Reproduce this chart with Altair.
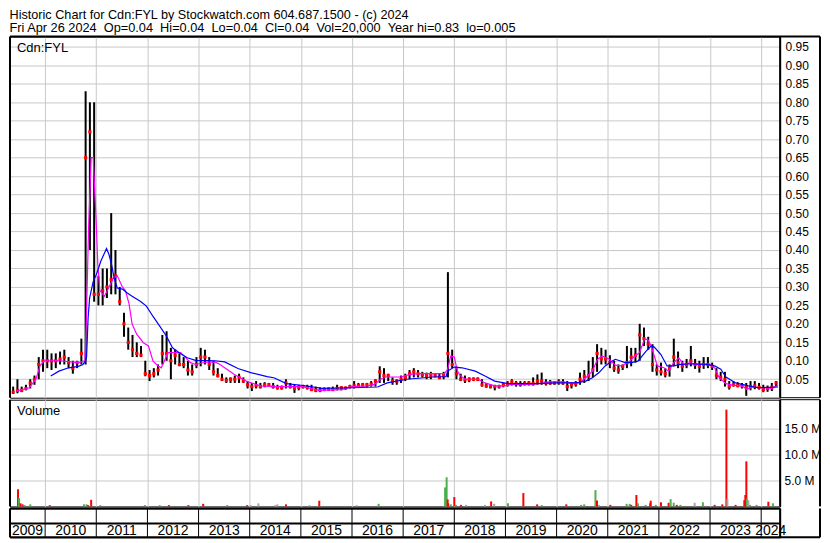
import altair as alt
import pandas as pd

FONT = "Liberation Sans"

header_line1 = "Historic Chart for Cdn:FYL by Stockwatch.com 604.687.1500 - (c) 2024"
header_line2 = ("Fri Apr 26 2024  Op=0.04  Hi=0.04  Lo=0.04  Cl=0.04  "
                "Vol=20,000  Year hi=0.83  lo=0.005").replace("  ", "\u00a0\u00a0")
ticker = "Cdn:FYL"
volume_title = "Volume"

# ---- monthly price bars, May 2009 .. Apr 2024 ----
first_month = "2009-05"
high = [
    0.03, 0.05, 0.03, 0.035, 0.05, 0.06, 0.11, 0.13,                            # 2009
    0.13, 0.12, 0.12, 0.125, 0.13, 0.11, 0.10, 0.10, 0.16, 0.83, 0.80, 0.80,    # 2010
    0.33, 0.35, 0.35, 0.50, 0.40, 0.30, 0.23, 0.19, 0.17, 0.15, 0.14, 0.10,     # 2011
    0.075, 0.08, 0.09, 0.17, 0.18, 0.135, 0.13, 0.12, 0.11, 0.10, 0.09, 0.11,   # 2012
    0.135, 0.13, 0.11, 0.10, 0.08, 0.065, 0.055, 0.055, 0.06, 0.065, 0.055, 0.045,  # 2013
    0.04, 0.045, 0.04, 0.042, 0.04, 0.04, 0.035, 0.033, 0.05, 0.04, 0.035, 0.035,   # 2014
    0.035, 0.035, 0.035, 0.03, 0.028, 0.028, 0.028, 0.03, 0.035, 0.03, 0.03, 0.035,  # 2015
    0.045, 0.04, 0.04, 0.04, 0.045, 0.05, 0.085, 0.08, 0.065, 0.055, 0.05, 0.06,    # 2016
    0.065, 0.075, 0.08, 0.075, 0.07, 0.068, 0.07, 0.065, 0.065, 0.07, 0.34, 0.13,   # 2017
    0.085, 0.065, 0.06, 0.055, 0.055, 0.055, 0.05, 0.04, 0.037, 0.035, 0.035, 0.04,  # 2018
    0.045, 0.05, 0.045, 0.045, 0.045, 0.045, 0.055, 0.063, 0.068, 0.05, 0.048, 0.045,  # 2019
    0.05, 0.05, 0.045, 0.042, 0.045, 0.068, 0.075, 0.10, 0.11, 0.145, 0.135, 0.13,  # 2020
    0.115, 0.10, 0.09, 0.09, 0.14, 0.135, 0.135, 0.20, 0.19, 0.165, 0.145, 0.09,    # 2021
    0.095, 0.08, 0.09, 0.16, 0.125, 0.10, 0.105, 0.14, 0.105, 0.10, 0.11, 0.11,     # 2022
    0.095, 0.08, 0.07, 0.07, 0.045, 0.045, 0.042, 0.04, 0.04, 0.045, 0.045, 0.04,   # 2023
    0.035, 0.033, 0.04, 0.045,                                                   # 2024
]
low = [
    0.01, 0.012, 0.015, 0.02, 0.025, 0.035, 0.05, 0.07,
    0.08, 0.075, 0.08, 0.09, 0.09, 0.08, 0.065, 0.08, 0.09, 0.09, 0.40, 0.26,
    0.25, 0.25, 0.27, 0.28, 0.28, 0.25, 0.165, 0.13, 0.11, 0.11, 0.11, 0.058,
    0.045, 0.055, 0.06, 0.09, 0.10, 0.05, 0.09, 0.085, 0.08, 0.06, 0.06, 0.08,
    0.085, 0.09, 0.075, 0.06, 0.055, 0.045, 0.04, 0.04, 0.04, 0.04, 0.04, 0.025,
    0.018, 0.025, 0.025, 0.028, 0.03, 0.025, 0.022, 0.022, 0.025, 0.025, 0.013, 0.02,
    0.025, 0.022, 0.018, 0.015, 0.015, 0.018, 0.018, 0.018, 0.02, 0.02, 0.022, 0.025,
    0.025, 0.028, 0.03, 0.028, 0.03, 0.03, 0.04, 0.04, 0.045, 0.035, 0.035, 0.04,
    0.045, 0.05, 0.055, 0.055, 0.055, 0.05, 0.05, 0.055, 0.05, 0.05, 0.055, 0.08,
    0.05, 0.045, 0.04, 0.042, 0.045, 0.045, 0.03, 0.027, 0.025, 0.02, 0.025, 0.028,
    0.03, 0.033, 0.03, 0.03, 0.033, 0.033, 0.033, 0.035, 0.035, 0.033, 0.035, 0.035,
    0.035, 0.035, 0.018, 0.025, 0.03, 0.035, 0.04, 0.045, 0.055, 0.07, 0.09, 0.09,
    0.08, 0.07, 0.065, 0.075, 0.08, 0.085, 0.095, 0.10, 0.14, 0.13, 0.07, 0.06,
    0.06, 0.055, 0.057, 0.085, 0.08, 0.07, 0.08, 0.085, 0.078, 0.068, 0.078, 0.08,
    0.075, 0.05, 0.045, 0.03, 0.022, 0.03, 0.028, 0.025, 0.005, 0.02, 0.023, 0.022,
    0.015, 0.016, 0.018, 0.03,
]
close = [
    0.015, 0.02, 0.02, 0.025, 0.04, 0.05, 0.09, 0.10,
    0.10, 0.10, 0.10, 0.105, 0.11, 0.095, 0.08, 0.095, 0.12, 0.65, 0.72, 0.28,
    0.28, 0.29, 0.30, 0.32, 0.33, 0.26, 0.20, 0.15, 0.13, 0.12, 0.115, 0.065,
    0.06, 0.065, 0.075, 0.12, 0.12, 0.10, 0.115, 0.09, 0.09, 0.075, 0.07, 0.09,
    0.11, 0.11, 0.09, 0.07, 0.06, 0.05, 0.047, 0.05, 0.05, 0.055, 0.045, 0.035,
    0.03, 0.033, 0.03, 0.035, 0.035, 0.03, 0.027, 0.027, 0.04, 0.03, 0.025, 0.028,
    0.03, 0.028, 0.022, 0.02, 0.02, 0.022, 0.023, 0.022, 0.025, 0.027, 0.026, 0.03,
    0.032, 0.033, 0.035, 0.035, 0.037, 0.045, 0.07, 0.06, 0.06, 0.045, 0.045, 0.05,
    0.055, 0.065, 0.07, 0.065, 0.062, 0.06, 0.06, 0.06, 0.055, 0.06, 0.12, 0.09,
    0.065, 0.05, 0.048, 0.05, 0.05, 0.05, 0.035, 0.032, 0.03, 0.03, 0.03, 0.035,
    0.037, 0.043, 0.038, 0.036, 0.038, 0.04, 0.038, 0.045, 0.045, 0.04, 0.04, 0.04,
    0.042, 0.04, 0.03, 0.035, 0.038, 0.05, 0.058, 0.06, 0.075, 0.12, 0.105, 0.105,
    0.095, 0.08, 0.075, 0.085, 0.095, 0.11, 0.115, 0.17, 0.16, 0.145, 0.09, 0.075,
    0.07, 0.065, 0.08, 0.11, 0.095, 0.085, 0.09, 0.10, 0.09, 0.085, 0.09, 0.09,
    0.085, 0.06, 0.055, 0.05, 0.03, 0.035, 0.033, 0.032, 0.028, 0.03, 0.032, 0.028,
    0.022, 0.025, 0.028, 0.04,
]

# ---- moving averages (decimal year, price) ----
ma_short_t = [2009.44, 2009.69, 2009.82, 2009.90, 2009.98, 2010.27, 2010.65, 2010.78, 2010.81,
              2010.85, 2010.90, 2010.94, 2010.97, 2011.00, 2011.03, 2011.07, 2011.16, 2011.25,
              2011.34, 2011.41, 2011.51, 2011.57, 2011.64, 2011.70, 2011.79, 2011.92, 2012.02,
              2012.11, 2012.21, 2012.27, 2012.33, 2012.40, 2012.49, 2012.65, 2012.75, 2012.84,
              2012.94, 2013.13, 2013.32, 2013.42, 2013.51, 2013.70, 2013.96, 2014.21, 2014.47,
              2015.04, 2015.36, 2015.80, 2015.99, 2016.31, 2016.44, 2016.56, 2016.66, 2016.95,
              2017.14, 2017.33, 2017.81, 2017.87, 2017.93, 2018.00, 2018.06, 2018.12, 2018.22,
              2018.47, 2018.60, 2018.79, 2018.98, 2019.11, 2019.43, 2019.68, 2019.87, 2020.13,
              2020.32, 2020.44, 2020.57, 2020.70, 2020.80, 2020.89, 2021.02, 2021.15, 2021.27,
              2021.40, 2021.53, 2021.62, 2021.72, 2021.78, 2021.85, 2021.91, 2021.97, 2022.10,
              2022.19, 2022.29, 2022.39, 2022.48, 2022.61, 2022.70, 2022.86, 2022.99, 2023.09,
              2023.18, 2023.31, 2023.44, 2023.63, 2023.72, 2023.82, 2024.01, 2024.20, 2024.33]
ma_short_v = [0.018, 0.027, 0.05, 0.086, 0.10, 0.10, 0.095, 0.10, 0.235,
              0.46, 0.65, 0.65, 0.56, 0.47, 0.36, 0.29, 0.275, 0.30,
              0.325, 0.33, 0.30, 0.29, 0.255, 0.20, 0.172, 0.149, 0.14,
              0.099, 0.086, 0.081, 0.099, 0.122, 0.122, 0.122, 0.108, 0.095,
              0.09, 0.096, 0.097, 0.09, 0.081, 0.063, 0.043, 0.032, 0.03,
              0.03, 0.02, 0.022, 0.03, 0.032, 0.036, 0.05, 0.056, 0.056,
              0.063, 0.065, 0.065, 0.077, 0.113, 0.11, 0.072, 0.059, 0.05,
              0.05, 0.04, 0.032, 0.032, 0.036, 0.036, 0.038, 0.043, 0.043,
              0.038, 0.04, 0.054, 0.072, 0.104, 0.113, 0.105, 0.088, 0.086,
              0.095, 0.113, 0.122, 0.158, 0.158, 0.14, 0.113, 0.086, 0.081,
              0.072, 0.095, 0.108, 0.09, 0.095, 0.09, 0.09, 0.09, 0.081,
              0.054, 0.038, 0.034, 0.032, 0.023, 0.029, 0.027, 0.025, 0.034]

ma_long_t = [2010.11, 2010.27, 2010.46, 2010.65, 2010.74, 2010.79, 2010.81, 2010.84, 2010.87,
             2010.94, 2011.00, 2011.09, 2011.20, 2011.25, 2011.30, 2011.35, 2011.41, 2011.51,
             2011.60, 2011.70, 2011.86, 2011.98, 2012.11, 2012.24, 2012.37, 2012.49, 2012.62,
             2012.78, 2012.94, 2013.32, 2013.51, 2013.77, 2014.02, 2014.34, 2014.47, 2014.72,
             2015.04, 2015.42, 2015.99, 2016.50, 2016.69, 2017.07, 2017.58, 2017.84, 2017.87,
             2018.00, 2018.15, 2018.41, 2018.60, 2018.79, 2019.05, 2019.56, 2020.00, 2020.38,
             2020.57, 2020.70, 2020.83, 2020.95, 2021.08, 2021.15, 2021.34, 2021.46, 2021.59,
             2021.75, 2021.85, 2021.91, 2022.04, 2022.16, 2022.29, 2022.42, 2022.61, 2022.93,
             2023.09, 2023.21, 2023.31, 2023.50, 2023.75, 2023.94, 2024.33]
ma_long_v = [0.059, 0.072, 0.081, 0.085, 0.09, 0.10, 0.11, 0.216, 0.27,
             0.315, 0.333, 0.37, 0.404, 0.387, 0.36, 0.324, 0.297, 0.294,
             0.284, 0.275, 0.261, 0.248, 0.22, 0.194, 0.167, 0.135, 0.122,
             0.108, 0.101, 0.10, 0.097, 0.079, 0.068, 0.057, 0.054, 0.038,
             0.033, 0.025, 0.027, 0.029, 0.04, 0.05, 0.056, 0.057, 0.072,
             0.083, 0.081, 0.072, 0.059, 0.045, 0.038, 0.038, 0.04, 0.04,
             0.045, 0.054, 0.068, 0.086, 0.099, 0.104, 0.095, 0.095, 0.099,
             0.126, 0.14, 0.137, 0.117, 0.086, 0.086, 0.09, 0.092, 0.09,
             0.086, 0.077, 0.056, 0.04, 0.032, 0.027, 0.029]

# ---- volume bars (decimal year, millions of shares, direction) ----
vol_t = [2009.47, 2009.49, 2009.52, 2009.56, 2009.60, 2009.71, 2010.09, 2010.76, 2010.81,
         2010.84, 2010.90, 2011.08, 2011.95, 2012.24, 2012.42, 2012.80, 2013.09, 2013.56,
         2013.95, 2014.02, 2014.17, 2014.50, 2014.54, 2014.71, 2015.17, 2015.36, 2016.09,
         2016.52, 2017.82, 2017.85, 2017.87, 2017.88, 2017.93, 2018.00, 2018.03, 2018.13,
         2018.23, 2018.60, 2018.72, 2018.78, 2019.05, 2019.35, 2019.62, 2019.71, 2020.19,
         2020.48, 2020.54, 2020.76, 2020.79, 2020.83, 2021.05, 2021.37, 2021.43, 2021.46,
         2021.56, 2021.59, 2021.74, 2021.83, 2021.84, 2021.94, 2022.04, 2022.19, 2022.23,
         2022.29, 2022.35, 2022.42, 2022.70, 2022.86, 2023.09, 2023.24, 2023.32, 2023.34,
         2023.50, 2023.67, 2023.71, 2023.69, 2023.72, 2023.75, 2023.78, 2023.91, 2024.14,
         2024.23]
vol_m = [3.3, 1.6, 0.6, 0.4, 0.25, 0.4, 0.25, 0.4, 0.4,
         0.25, 1.28, 0.25, 0.25, 0.25, 0.25, 0.25, 0.5, 0.25,
         0.25, 0.25, 0.6, 0.25, 0.4, 0.4, 0.25, 1.1, 0.25,
         0.5, 3.65, 5.6, 1.35, 0.6, 0.4, 1.8, 0.3, 0.3,
         0.3, 0.3, 0.96, 0.5, 0.6, 2.56, 0.4, 0.25, 0.4,
         0.3, 0.4, 3.13, 1.15, 0.3, 0.3, 0.5, 0.5, 0.3,
         2.2, 0.6, 0.3, 0.6, 1.1, 0.3, 0.8, 0.7, 1.4,
         0.7, 0.3, 0.3, 0.7, 0.8, 0.3, 0.4, 18.6, 1.4,
         0.3, 1.2, 8.65, 2.2, 1.5, 1.2, 0.3, 0.3, 0.9,
         0.6]
vol_dir = ["down", "up", "down", "down", "up", "up", "down", "up", "up",
           "down", "down", "up", "up", "up", "down", "down", "down", "up",
           "down", "flat", "flat", "flat", "flat", "down", "flat", "down", "flat",
           "up", "up", "up", "down", "down", "up", "down", "up", "down",
           "flat", "flat", "down", "flat", "up", "down", "down", "up", "down",
           "up", "up", "up", "down", "flat", "down", "up", "up", "down",
           "down", "up", "up", "down", "down", "up", "down", "down", "up",
           "up", "down", "up", "flat", "up", "down", "down", "down", "flat",
           "down", "down", "down", "down", "up", "flat", "up", "up", "down",
           "up"]

years = list(range(2009, 2025))
price_ticks = [0.05, 0.10, 0.15, 0.20, 0.25, 0.30, 0.35, 0.40, 0.45, 0.50,
               0.55, 0.60, 0.65, 0.70, 0.75, 0.80, 0.85, 0.90, 0.95]
volume_ticks = [5, 10, 15]

X_MIN, X_MAX = 2009.313, 2024.37
PRICE_MAX = 0.978
VOL_MAX = 20.5

W = 772
H_PRICE = 362
H_VOL = 107
H_STRIP = 29
LABEL_COL = 40
GRID = "#c8c8c8"

# ---- data frames ----
months = pd.period_range(first_month, periods=len(high), freq="M")
bars = pd.DataFrame({
    "t": [m.year + (m.month - 0.5) / 12 for m in months],
    "hi": high, "lo": low, "cl": close,
})
ma_s = pd.DataFrame({"t": ma_short_t, "v": ma_short_v})
ma_l = pd.DataFrame({"t": ma_long_t, "v": ma_long_v})
vol = pd.DataFrame({"t": vol_t, "m": vol_m, "dir": vol_dir})
one = pd.DataFrame({"s": [0]})

xs = alt.Scale(domain=[X_MIN, X_MAX], nice=False, zero=False)
ys = alt.Scale(domain=[0, PRICE_MAX], nice=False, zero=False)
vs = alt.Scale(domain=[0, VOL_MAX], nice=False, zero=False)

x_axis = alt.Axis(values=years[1:], grid=True, gridColor=GRID, gridWidth=1,
                  labels=False, ticks=False, domain=False, title=None)
y_axis = alt.Axis(orient="right", values=price_ticks, format=".2f", grid=True, gridColor=GRID,
                  ticks=False, domain=False, title=None, labelPadding=5,
                  labelFont=FONT, labelFontSize=12, labelColor="black")
v_axis = alt.Axis(orient="right", values=volume_ticks,
                  labelExpr="format(datum.value, '.1f') + ' M'",
                  grid=True, gridColor=GRID, ticks=False, domain=False, title=None,
                  labelPadding=4, labelFont=FONT, labelFontSize=12, labelColor="black")


def X():
    return alt.X("t:Q", scale=xs, axis=x_axis, title=None)


def PY(field):
    return alt.Y(field, scale=ys, axis=y_axis, title=None)


def hline(y, x0, x1, w):
    return alt.Chart(one).mark_rule(color="black", strokeWidth=w).encode(
        x=alt.value(x0), x2=alt.value(x1), y=alt.value(y))


def vline(x, y0, y1, w):
    return alt.Chart(one).mark_rule(color="black", strokeWidth=w).encode(
        x=alt.value(x), y=alt.value(y0), y2=alt.value(y1))


price_bars = alt.Chart(bars).mark_rule(color="black", strokeWidth=2).encode(
    x=X(), y=PY("lo:Q"), y2="hi:Q")
price_close = alt.Chart(bars).mark_square(color="#ff0000", size=10, opacity=1).encode(
    x=X(), y=PY("cl:Q"))
line_s = alt.Chart(ma_s).mark_line(color="#ff00ff", strokeWidth=1.2).encode(x=X(), y=PY("v:Q"))
line_l = alt.Chart(ma_l).mark_line(color="#0000ff", strokeWidth=1.2).encode(x=X(), y=PY("v:Q"))
price_label = alt.Chart(pd.DataFrame({"s": [ticker]})).mark_text(
    font=FONT, fontSize=13, color="black", align="left", baseline="top").encode(
    text="s:N", x=alt.value(7), y=alt.value(5))

price = alt.layer(
    price_bars, price_close, line_s, line_l, price_label,
    hline(0, 0, W + LABEL_COL, 2), vline(0, 0, H_PRICE, 2), vline(W, 0, H_PRICE, 2),
    hline(H_PRICE, W, W + LABEL_COL, 1), vline(W + LABEL_COL, 0, H_PRICE, 2),
).properties(width=W, height=H_PRICE)

vol_bars = alt.Chart(vol).mark_rule(strokeWidth=2).encode(
    x=X(),
    y=alt.Y("m:Q", scale=vs, axis=v_axis, title=None),
    y2=alt.datum(0),
    color=alt.Color("dir:N", scale=alt.Scale(domain=["down", "up", "flat"],
                                             range=["#ff0000", "#4cb04c", "#a8a8a8"]),
                    legend=None),
)
vol_label = alt.Chart(pd.DataFrame({"s": [volume_title]})).mark_text(
    font=FONT, fontSize=13, color="black", align="left", baseline="top").encode(
    text="s:N", x=alt.value(7), y=alt.value(5))
volume = alt.layer(
    vol_bars, vol_label,
    hline(0, W, W + LABEL_COL, 1), vline(0, 0, H_VOL, 2), vline(W, 0, H_VOL, 2),
    vline(W + LABEL_COL, 0, H_VOL, 2),
).properties(width=W, height=H_VOL)

# ---- year strip ----
bounds = pd.DataFrame({"t": years[1:]})
labels = pd.DataFrame({
    "year": [str(y) for y in years],
    "t": [(max(y, X_MIN) + min(y + 1, X_MAX)) / 2 for y in years],
})
sx = alt.X("t:Q", scale=xs, axis=None)
strip_rules = alt.Chart(bounds).mark_rule(color="black", strokeWidth=1).encode(
    x=sx, y=alt.value(0), y2=alt.value(H_STRIP))
strip_text = alt.Chart(labels).mark_text(font=FONT, fontSize=14, color="black",
                                         baseline="middle").encode(
    x=sx, y=alt.value(22.5), text="year:N")
strip = alt.layer(
    strip_rules, strip_text,
    hline(15, 0, W, 2), hline(0, 0, W, 2), hline(H_STRIP, 0, W + LABEL_COL, 2),
    vline(0, 0, H_STRIP, 2), vline(W, 0, H_STRIP, 2), vline(W + LABEL_COL, 0, H_STRIP, 2),
).properties(width=W, height=H_STRIP)

chart = alt.vconcat(price, volume, strip, spacing=2, bounds="flush").properties(
    title=alt.TitleParams(text=header_line1, subtitle=header_line2, anchor="start",
                          font=FONT, fontSize=12.7, fontWeight="normal", color="black",
                          subtitleFont=FONT, subtitleFontSize=12.8, subtitleColor="black",
                          subtitlePadding=1, offset=0, dx=1),
    padding=0,
    background="white",
).configure_view(stroke="black", strokeWidth=1).configure_concat(spacing=2)

chart.save("out.html", embed_options={"renderer": "svg", "actions": False})
